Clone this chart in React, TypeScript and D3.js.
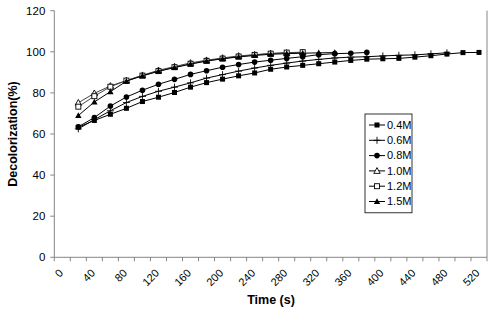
import * as d3 from "d3";

const width = 500;
const height = 319;
const margin = { top: 10.7, right: 13, bottom: 61.7, left: 54.3 };

const xTicks = [0, 40, 80, 120, 160, 200, 240, 280, 320, 360, 400, 440, 480, 520];
const yTicks = [0, 20, 40, 60, 80, 100, 120];

const t04 = [30, 50, 70, 90, 110, 130, 150, 170, 190, 210, 230, 250, 270, 290, 310, 330, 350, 370, 390, 410, 430, 450, 470, 490, 510, 530];
const v04 = [63.3, 66.6, 69.6, 72.5, 75.8, 77.9, 80.2, 82.8, 85.0, 86.7, 88.3, 89.7, 91.5, 92.6, 93.4, 94.2, 95.0, 95.8, 96.4, 96.6, 96.8, 97.4, 98.1, 98.9, 99.6, 99.7];

const t06 = [30, 50, 70, 90, 110, 130, 150, 170, 190, 210, 230, 250, 270, 290, 310, 330, 350, 370, 390, 410, 430, 450, 470, 490];
const v06 = [62.5, 67.0, 71.3, 75.3, 78.3, 80.8, 82.8, 84.9, 87.2, 88.9, 90.6, 92.1, 93.4, 94.5, 95.5, 96.3, 97.0, 97.4, 97.6, 98.0, 98.3, 98.5, 99.0, 99.5];

const t08 = [30, 50, 70, 90, 110, 130, 150, 170, 190, 210, 230, 250, 270, 290, 310, 330, 350, 370, 390];
const v08 = [63.5, 68.0, 73.6, 78.0, 81.3, 84.2, 86.6, 89.0, 90.8, 92.5, 93.8, 95.0, 95.9, 96.8, 97.6, 98.6, 99.1, 99.3, 99.7];

const t10 = [30, 50, 70, 90, 110, 130, 150, 170, 190, 210, 230, 250, 270, 290, 310];
const v10 = [75.2, 79.8, 83.4, 86.0, 88.6, 91.0, 92.8, 94.6, 95.9, 97.0, 98.0, 98.6, 99.2, 99.5, 99.7];

const t12 = [30, 50, 70, 90, 110, 130, 150, 170, 190, 210, 230, 250, 270, 290, 310];
const v12 = [73.3, 78.4, 83.0, 86.0, 88.4, 90.6, 92.5, 94.2, 95.6, 96.7, 97.7, 98.5, 99.1, 99.6, 99.8];

const t15 = [30, 50, 70, 90, 110, 130, 150, 170, 190, 210, 230, 250, 270, 290, 310, 330, 350];
const v15 = [69.0, 75.6, 80.6, 85.7, 88.3, 90.5, 92.3, 94.0, 95.5, 96.6, 97.5, 98.2, 98.8, 99.1, 99.3, 99.5, 99.6];

type Marker = "square" | "plus" | "circle" | "triangleOpen" | "squareOpen" | "triangle";

const series: { name: string; t: number[]; v: number[]; marker: Marker; line: string }[] = [
  { name: "0.4M", t: t04, v: v04, marker: "square", line: "#000" },
  { name: "0.6M", t: t06, v: v06, marker: "plus", line: "#000" },
  { name: "0.8M", t: t08, v: v08, marker: "circle", line: "#000" },
  { name: "1.0M", t: t10, v: v10, marker: "triangleOpen", line: "#444" },
  { name: "1.2M", t: t12, v: v12, marker: "squareOpen", line: "#444" },
  { name: "1.5M", t: t15, v: v15, marker: "triangle", line: "#000" },
];

const font = "Arial, 'Liberation Sans', sans-serif";
const axisColor = "#868686";

function MarkerShape({ kind, x, y }: { kind: Marker; x: number; y: number }) {
  switch (kind) {
    case "square":
      return <rect x={x - 2.5} y={y - 2.5} width={5} height={5} fill="#000" />;
    case "squareOpen":
      return <rect x={x - 2.5} y={y - 2.5} width={5} height={5} fill="#fff" stroke="#000" strokeWidth={0.9} />;
    case "circle":
      return <circle cx={x} cy={y} r={2.8} fill="#000" />;
    case "plus":
      return (
        <path d={`M${x - 3.5},${y}H${x + 3.5}M${x},${y - 3.5}V${y + 3.5}`} stroke="#000" strokeWidth={0.9} />
      );
    case "triangle":
      return <path d={`M${x},${y - 3.3}L${x + 3.2},${y + 2.5}L${x - 3.2},${y + 2.5}Z`} fill="#000" />;
    case "triangleOpen":
      return (
        <path
          d={`M${x},${y - 3.3}L${x + 3.2},${y + 2.5}L${x - 3.2},${y + 2.5}Z`}
          fill="#fff"
          stroke="#000"
          strokeWidth={0.9}
        />
      );
  }
}

export default function App() {
  const x = d3.scaleLinear().domain([0, 540]).range([margin.left, width - margin.right]);
  const y = d3.scaleLinear().domain([0, 120]).range([height - margin.bottom, margin.top]);
  const minorX = d3.range(0, 541, 20);
  const line = d3
    .line<[number, number]>()
    .x((d) => x(d[0]))
    .y((d) => y(d[1]));

  const legendX = 365;
  const legendY = 114;
  const legendRow = 15.3;

  return (
    <svg
      width={width}
      height={height}
      style={{ position: "absolute", left: 0, top: 0, background: "#fff" }}
      fontFamily={font}
    >
      {/* axes */}
      <line x1={x(0)} x2={x(0)} y1={y(120)} y2={y(0)} stroke={axisColor} />
      <line x1={x(0)} x2={x(540)} y1={y(0)} y2={y(0)} stroke={axisColor} />
      <line x1={x(540)} x2={x(540)} y1={y(120)} y2={y(0)} stroke={axisColor} />
      {yTicks.map((t) => (
        <g key={t}>
          <line x1={x(0) - 4} x2={x(0)} y1={y(t)} y2={y(t)} stroke={axisColor} />
          <text x={x(0) - 9} y={y(t)} dy="0.35em" textAnchor="end" fontSize={11.5} fill="#000">
            {t}
          </text>
        </g>
      ))}
      {minorX.map((t) => (
        <line key={t} x1={x(t)} x2={x(t)} y1={y(0)} y2={y(0) + 4} stroke={axisColor} />
      ))}
      {xTicks.map((t) => (
        <text
          key={t}
          transform={`translate(${x(t) + 4},${y(0) + 11}) rotate(-45)`}
          textAnchor="end"
          dy="0.7em"
          fontSize={11}
          fill="#000"
        >
          {t}
        </text>
      ))}
      <text x={271} y={304} textAnchor="middle" fontSize={12.5} fontWeight="bold">
        Time (s)
      </text>
      <text
        transform={`translate(17,${(y(0) + y(120)) / 2}) rotate(-90)`}
        textAnchor="middle"
        fontSize={12.5}
        fontWeight="bold"
      >
        Decolorization(%)
      </text>

      {/* series */}
      {series.map((s) => {
        const pts = s.t.map((t, i) => [t, s.v[i]] as [number, number]);
        return (
          <g key={s.name}>
            <path d={line(pts) ?? ""} fill="none" stroke={s.line} strokeWidth={1} />
            {pts.map((p, i) => (
              <MarkerShape key={i} kind={s.marker} x={x(p[0])} y={y(p[1])} />
            ))}
          </g>
        );
      })}

      {/* legend */}
      <rect
        x={legendX}
        y={legendY}
        width={47}
        height={legendRow * series.length + 7}
        fill="#fff"
        stroke="#000"
        strokeWidth={0.8}
      />
      {series.map((s, i) => {
        const cy = legendY + 11 + i * legendRow;
        return (
          <g key={s.name}>
            <line x1={legendX + 4} x2={legendX + 20} y1={cy} y2={cy} stroke="#000" />
            <MarkerShape kind={s.marker} x={legendX + 12} y={cy} />
            <text x={legendX + 22} y={cy} dy="0.35em" fontSize={11} fill="#000">
              {s.name}
            </text>
          </g>
        );
      })}
    </svg>
  );
}
